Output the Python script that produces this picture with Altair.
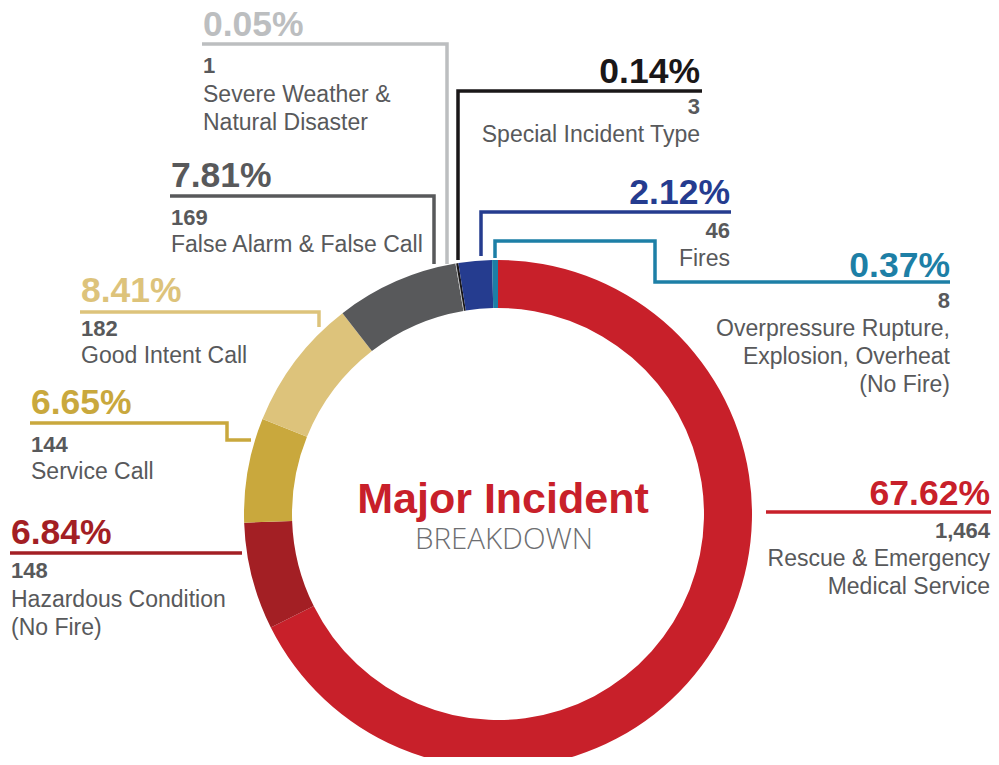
import altair as alt
import pandas as pd

# ---- data ----
categories = [
    "Rescue & Emergency\nMedical Service",
    "Hazardous Condition\n(No Fire)",
    "Service Call",
    "Good Intent Call",
    "False Alarm & False Call",
    "Severe Weather &\nNatural Disaster",
    "Special Incident Type",
    "Fires",
    "Overpressure Rupture,\nExplosion, Overheat\n(No Fire)",
]
counts = [1464, 148, 144, 182, 169, 1, 3, 46, 8]
percents = [67.62, 6.84, 6.65, 8.41, 7.81, 0.05, 0.14, 2.12, 0.37]

# ---- styles ----
colors = ["#C8202A", "#A31F24", "#C9A83D", "#DDC37B", "#58595B",
          "#BCBEC0", "#1A1718", "#253C8F", "#1D7FA6"]
GREY = "#58595B"
FONT = "Liberation Sans"

# ---- annotation layout (image pixel coordinates) ----
label_x = [990, 11, 31, 81, 171, 203, 700, 730, 950]
label_align = ["right", "left", "left", "left", "left", "left", "right", "right", "right"]
pct_y = [505, 544, 414, 302, 187, 36, 83, 204, 277]
count_y = [538, 578, 452, 336, 225, 73, 114, 238, 308]
name_y = [566, 607, 479, 363, 252, 102, 142, 266, 336]
leader_paths = [
    [(766, 512), (992, 512)],
    [(10, 553), (242, 553)],
    [(30, 423), (227, 423), (227, 440), (251, 440)],
    [(80, 312), (319, 312), (319, 327)],
    [(170, 196), (434, 196), (434, 264)],
    [(202, 44), (447, 44), (447, 264)],
    [(702, 91), (458, 91), (458, 260)],
    [(731, 212), (481, 212), (481, 256)],
    [(950, 282), (655, 282), (655, 241), (495, 241), (495, 258)],
]
CX, CY = 498, 514          # ring centre (image px)
R_OUT, R_IN = 254, 206

W, H = 983, 749
xs = alt.Scale(domain=[8, 8 + W], nice=False, zero=False)
ys = alt.Scale(domain=[8, 8 + H], nice=False, zero=False, reverse=True)
cscale = alt.Scale(domain=categories, range=colors)

arc_df = pd.DataFrame({"cat": categories, "count": counts, "idx": list(range(len(categories)))})

lab_df = pd.DataFrame({
    "cat": categories,
    "pct": [f"{p:.2f}%" for p in percents],
    "cnt": [f"{c:,}" for c in counts],
    "lx": label_x, "align": label_align,
    "py": pct_y, "cy": count_y, "ny": name_y,
})

rows = []
for cat, path in zip(categories, leader_paths):
    for i, (px, py) in enumerate(path):
        rows.append({"cat": cat, "seq": i, "px": px, "py": py})
line_df = pd.DataFrame(rows)

ring = alt.Chart(arc_df).mark_arc(radius=R_OUT, radius2=R_IN).encode(
    theta=alt.Theta("count:Q", stack=True),
    order=alt.Order("idx:Q", sort="ascending"),
    color=alt.Color("cat:N", scale=cscale, legend=None),
    x=alt.value(CX - 8), y=alt.value(CY - 8),
)

leaders = alt.Chart(line_df).mark_line(strokeWidth=3.5, strokeCap="butt", strokeJoin="miter").encode(
    x=alt.X("px:Q", scale=xs, axis=None),
    y=alt.Y("py:Q", scale=ys, axis=None),
    detail="cat:N",
    order="seq:Q",
    color=alt.Color("cat:N", scale=cscale, legend=None),
)

def text_layers(align):
    base = alt.Chart(lab_df).transform_filter(alt.datum.align == align)
    pct = base.mark_text(align=align, baseline="alphabetic", font=FONT, fontWeight="bold",
                         fontSize=35.5).encode(
        x=alt.X("lx:Q", scale=xs, axis=None), y=alt.Y("py:Q", scale=ys, axis=None),
        text="pct:N", color=alt.Color("cat:N", scale=cscale, legend=None))
    cnt = base.mark_text(align=align, baseline="alphabetic", font=FONT, fontWeight="bold",
                         fontSize=22, color=GREY).encode(
        x=alt.X("lx:Q", scale=xs, axis=None), y=alt.Y("cy:Q", scale=ys, axis=None),
        text="cnt:N")
    nm = base.mark_text(align=align, baseline="alphabetic", font=FONT, fontSize=23, color=GREY,
                        lineBreak="\n", lineHeight=28).encode(
        x=alt.X("lx:Q", scale=xs, axis=None), y=alt.Y("ny:Q", scale=ys, axis=None),
        text="cat:N")
    return [pct, cnt, nm]

title1 = alt.Chart(pd.DataFrame({"t": ["Major Incident"]})).mark_text(
    font=FONT, fontWeight="bold", fontSize=43, color="#C8202A", align="center",
    baseline="alphabetic").encode(
    x=alt.X("tx:Q", scale=xs, axis=None), y=alt.Y("ty:Q", scale=ys, axis=None), text="t:N"
).transform_calculate(tx="503", ty="513")
title2 = alt.Chart(pd.DataFrame({"t": ["BREAKDOWN"]})).mark_text(
    font="Open Sans", fontWeight=300, fontSize=29.5, color="#6D6E71", align="center",
    baseline="alphabetic").encode(
    x=alt.X("tx:Q", scale=xs, axis=None), y=alt.Y("ty:Q", scale=ys, axis=None), text="t:N"
).transform_calculate(tx="504", ty="549")

chart = alt.layer(
    ring, leaders, *text_layers("left"), *text_layers("right"), title1, title2
).properties(
    width=W, height=H, autosize=alt.AutoSizeParams(type="none"), padding=0
).configure_view(stroke=None)

chart.save("out.html", embed_options={"renderer": "svg", "actions": False})
